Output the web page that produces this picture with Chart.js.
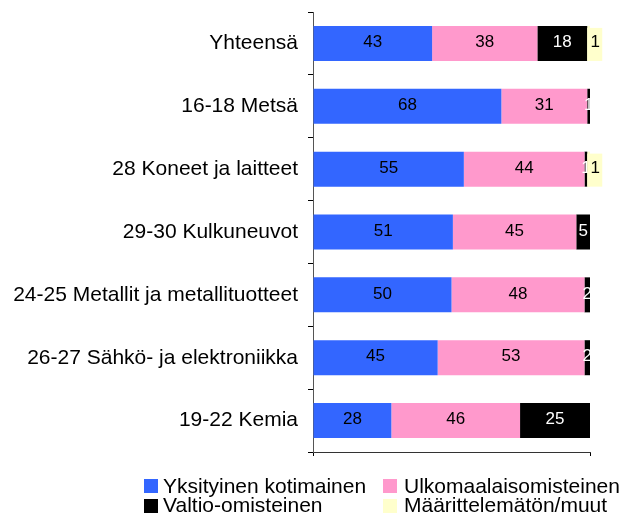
<!DOCTYPE html>
<html>
<head>
<meta charset="utf-8">
<script src="https://cdn.jsdelivr.net/npm/chart.js@4"></script>
<style>
  body { margin: 0; background: #fff; }
  #alue { position: relative; width: 627px; height: 514px; }
  canvas { position: absolute; left: 0; top: 0; }
  .selite { position: absolute; font: 21px "Liberation Sans", Arial, sans-serif; line-height: 21px; color: #000; white-space: nowrap; }
  .ruutu { position: absolute; width: 14px; height: 14px; }
</style>
</head>
<body>
<div id="alue">
  <canvas id="kaavio" width="627" height="514"></canvas>
  <div class="ruutu" style="left:144px;top:479px;background:#3366FF"></div>
  <div class="selite" style="left:163px;top:475px">Yksityinen kotimainen</div>
  <div class="ruutu" style="left:383px;top:479px;background:#FF99CC"></div>
  <div class="selite" style="left:404px;top:475px">Ulkomaalaisomisteinen</div>
  <div class="ruutu" style="left:144px;top:499px;background:#000000"></div>
  <div class="selite" style="left:163px;top:494px">Valtio-omisteinen</div>
  <div class="ruutu" style="left:383px;top:499px;background:#FFFFCC"></div>
  <div class="selite" style="left:404px;top:494px">Määrittelemätön/muut</div>
</div>
<script>
const kategoriat = [
  "Yhteensä",
  "16-18 Metsä",
  "28 Koneet ja laitteet",
  "29-30 Kulkuneuvot",
  "24-25 Metallit ja metallituotteet",
  "26-27 Sähkö- ja elektroniikka",
  "19-22 Kemia"
];
const yksityinen = [43, 68, 55, 51, 50, 45, 28];
const ulkomaalais = [38, 31, 44, 45, 48, 53, 46];
const valtio = [18, 1, 1, 5, 2, 2, 25];
const muut = [1, 0, 1, 0, 0, 0, 0];

// 100 % pinottu: jokainen rivi skaalataan omaan summaansa
const summat = kategoriat.map((k, i) => yksityinen[i] + ulkomaalais[i] + valtio[i] + muut[i]);
function osuus(arvot) {
  return arvot.map((v, i) => v / summat[i] * 100);
}

function sarja(nimi, arvot, vari, tekstiVari, laatikko) {
  return {
    label: nimi,
    data: osuus(arvot),
    arvot: arvot,
    backgroundColor: vari,
    borderWidth: 0,
    tekstiVari: tekstiVari,
    laatikko: laatikko,
    categoryPercentage: 1,
    barPercentage: 0.557
  };
}

const arvoTekstit = {
  id: "arvoTekstit",
  afterDatasetsDraw(chart) {
    const ctx = chart.ctx;
    ctx.save();
    ctx.font = '17px "Liberation Sans", Arial, sans-serif';
    ctx.textAlign = "center";
    ctx.textBaseline = "middle";
    chart.data.datasets.forEach((ds, di) => {
      const meta = chart.getDatasetMeta(di);
      meta.data.forEach((bar, i) => {
        const v = ds.arvot[i];
        if (!v) return;
        const p = bar.getProps(["x", "y", "base", "height"], true);
        let keski = (p.base + p.x) / 2;
        if (ds.laatikko) {
          ctx.fillStyle = ds.backgroundColor;
          ctx.fillRect(p.base, p.y - p.height / 2 + 2, 15, p.height - 2);
          keski = p.base + 8;
        }
        ctx.fillStyle = ds.tekstiVari;
        ctx.fillText(String(v), keski, p.y - 1);
      });
    });
    ctx.restore();
  }
};

new Chart(document.getElementById("kaavio").getContext("2d"), {
  type: "bar",
  data: {
    labels: kategoriat,
    datasets: [
      sarja("Yksityinen kotimainen", yksityinen, "#3366FF", "#000", false),
      sarja("Ulkomaalaisomisteinen", ulkomaalais, "#FF99CC", "#000", false),
      sarja("Valtio-omisteinen", valtio, "#000000", "#fff", false),
      sarja("Määrittelemätön/muut", muut, "#FFFFCC", "#000", true)
    ]
  },
  options: {
    indexAxis: "y",
    responsive: false,
    animation: false,
    layout: { padding: { top: 12, right: 37, bottom: 62, left: 0 } },
    plugins: {
      legend: { display: false },
      tooltip: { enabled: false }
    },
    scales: {
      x: {
        stacked: true,
        min: 0,
        max: 100,
        ticks: { display: false, stepSize: 100 },
        grid: { drawOnChartArea: false, drawTicks: true, tickLength: 4, color: "#000" },
        border: { display: true, color: "#333" },
        afterFit: function (s) { s.height = 0; s.paddingLeft = 0; s.paddingRight = 0; }
      },
      y: {
        stacked: true,
        ticks: {
          color: "#000",
          padding: 10,
          font: { family: '"Liberation Sans", Arial, sans-serif', size: 21 }
        },
        grid: { drawOnChartArea: false, drawTicks: true, tickLength: 5, color: "#000", offset: true },
        border: { display: true, color: "#555" },
        afterFit: function (s) { s.width = 313; s.paddingTop = 0; s.paddingBottom = 0; }
      }
    }
  },
  plugins: [arvoTekstit]
});
</script>
</body>
</html>
